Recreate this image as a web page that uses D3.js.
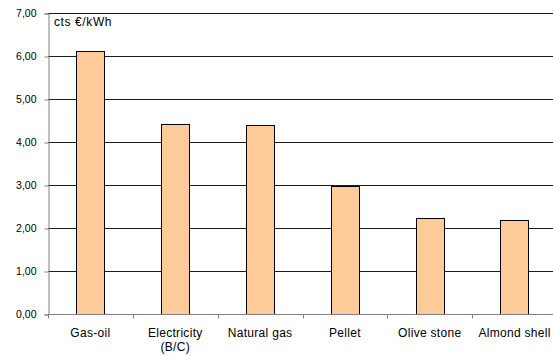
<!DOCTYPE html>
<html>
<head>
<meta charset="utf-8">
<script src="https://cdn.jsdelivr.net/npm/d3@7/dist/d3.min.js"></script>
<style>
  html, body { margin: 0; padding: 0; background: #fff; }
  svg { display: block; font-family: "Liberation Sans", Arial, sans-serif; }
</style>
</head>
<body>
<svg id="chart" width="553" height="356"></svg>
<script>
// Heating cost per fuel, cents of euro per kWh
const categories = ["Gas-oil", "Electricity\n(B/C)", "Natural gas", "Pellet", "Olive stone", "Almond shell"];
const costs = [6.12, 4.41, 4.39, 2.98, 2.24, 2.18];
const yTicks = [0, 1, 2, 3, 4, 5, 6, 7];
const unitLabel = "cts €/kWh";

const svg = d3.select("#chart");
const W = 553, H = 356;
const plotLeft = 48, plotRight = 557, plotTop = 13, plotBottom = 314;

const x = d3.scaleBand()
  .domain(categories)
  .range([plotLeft, plotRight])
  .paddingInner(0.665)
  .paddingOuter(0.3325);

const y = d3.scaleLinear().domain([0, 7]).range([plotBottom, plotTop]);

const comma = d3.formatLocale({ decimal: ",", thousands: ".", grouping: [3], currency: ["", "€"] }).format(".2f");

// horizontal gridlines
svg.append("g")
  .selectAll("line")
  .data(yTicks.filter(d => d > 0))
  .join("line")
  .attr("x1", plotLeft).attr("x2", W)
  .attr("y1", d => Math.round(y(d)) + 0.5)
  .attr("y2", d => Math.round(y(d)) + 0.5)
  .attr("stroke", "#1a1a1a")
  .attr("stroke-width", 1);

// bars
svg.append("g")
  .selectAll("rect")
  .data(costs)
  .join("rect")
  .attr("x", (d, i) => Math.round(x(categories[i])) + 0.5)
  .attr("y", d => Math.round(y(d)) + 0.5)
  .attr("width", Math.round(x.bandwidth()))
  .attr("height", d => Math.round(y(0)) - Math.round(y(d)))
  .attr("fill", "#FFCC99")
  .attr("stroke", "#000")
  .attr("stroke-width", 1);

// left axis
const yAxis = svg.append("g")
  .attr("transform", `translate(${plotLeft + 0.5},0.5)`)
  .call(d3.axisLeft(y).tickValues(yTicks).tickFormat(comma).tickSize(4).tickPadding(8));
yAxis.select(".domain").attr("stroke", "#808080");
yAxis.selectAll(".tick line").attr("stroke", "#808080");
yAxis.selectAll(".tick text")
  .attr("fill", "#000")
  .style("font-size", "10.5px")
  .style("font-family", "'Liberation Sans', Arial, sans-serif");

// bottom axis line with category separators
const baseY = Math.round(y(0)) + 0.5;
svg.append("line")
  .attr("x1", plotLeft).attr("x2", W)
  .attr("y1", baseY).attr("y2", baseY)
  .attr("stroke", "#808080");

const bounds = categories.map(c => x(c) + x.bandwidth() / 2 - x.step() / 2).concat([plotRight]);
svg.append("g")
  .selectAll("line")
  .data(bounds)
  .join("line")
  .attr("x1", d => Math.round(d) + 0.5).attr("x2", d => Math.round(d) + 0.5)
  .attr("y1", baseY).attr("y2", baseY + 4)
  .attr("stroke", "#808080");

// category labels
const labels = svg.append("g")
  .selectAll("text")
  .data(categories)
  .join("text")
  .attr("x", d => x(d) + x.bandwidth() / 2)
  .attr("y", 337)
  .attr("text-anchor", "middle")
  .style("font-size", "12px")
  .style("letter-spacing", "0.3px")
  .attr("fill", "#000");
labels.each(function(d) {
  const t = d3.select(this);
  d.split("\n").forEach((line, i) => {
    t.append("tspan")
      .attr("x", x(d) + x.bandwidth() / 2)
      .attr("dy", i === 0 ? 0 : 14)
      .text(line);
  });
});

// unit label
svg.append("text")
  .attr("x", 54)
  .attr("y", 26)
  .style("font-size", "12px")
  .style("letter-spacing", "0.6px")
  .attr("fill", "#000")
  .text(unitLabel);
</script>
</body>
</html>
